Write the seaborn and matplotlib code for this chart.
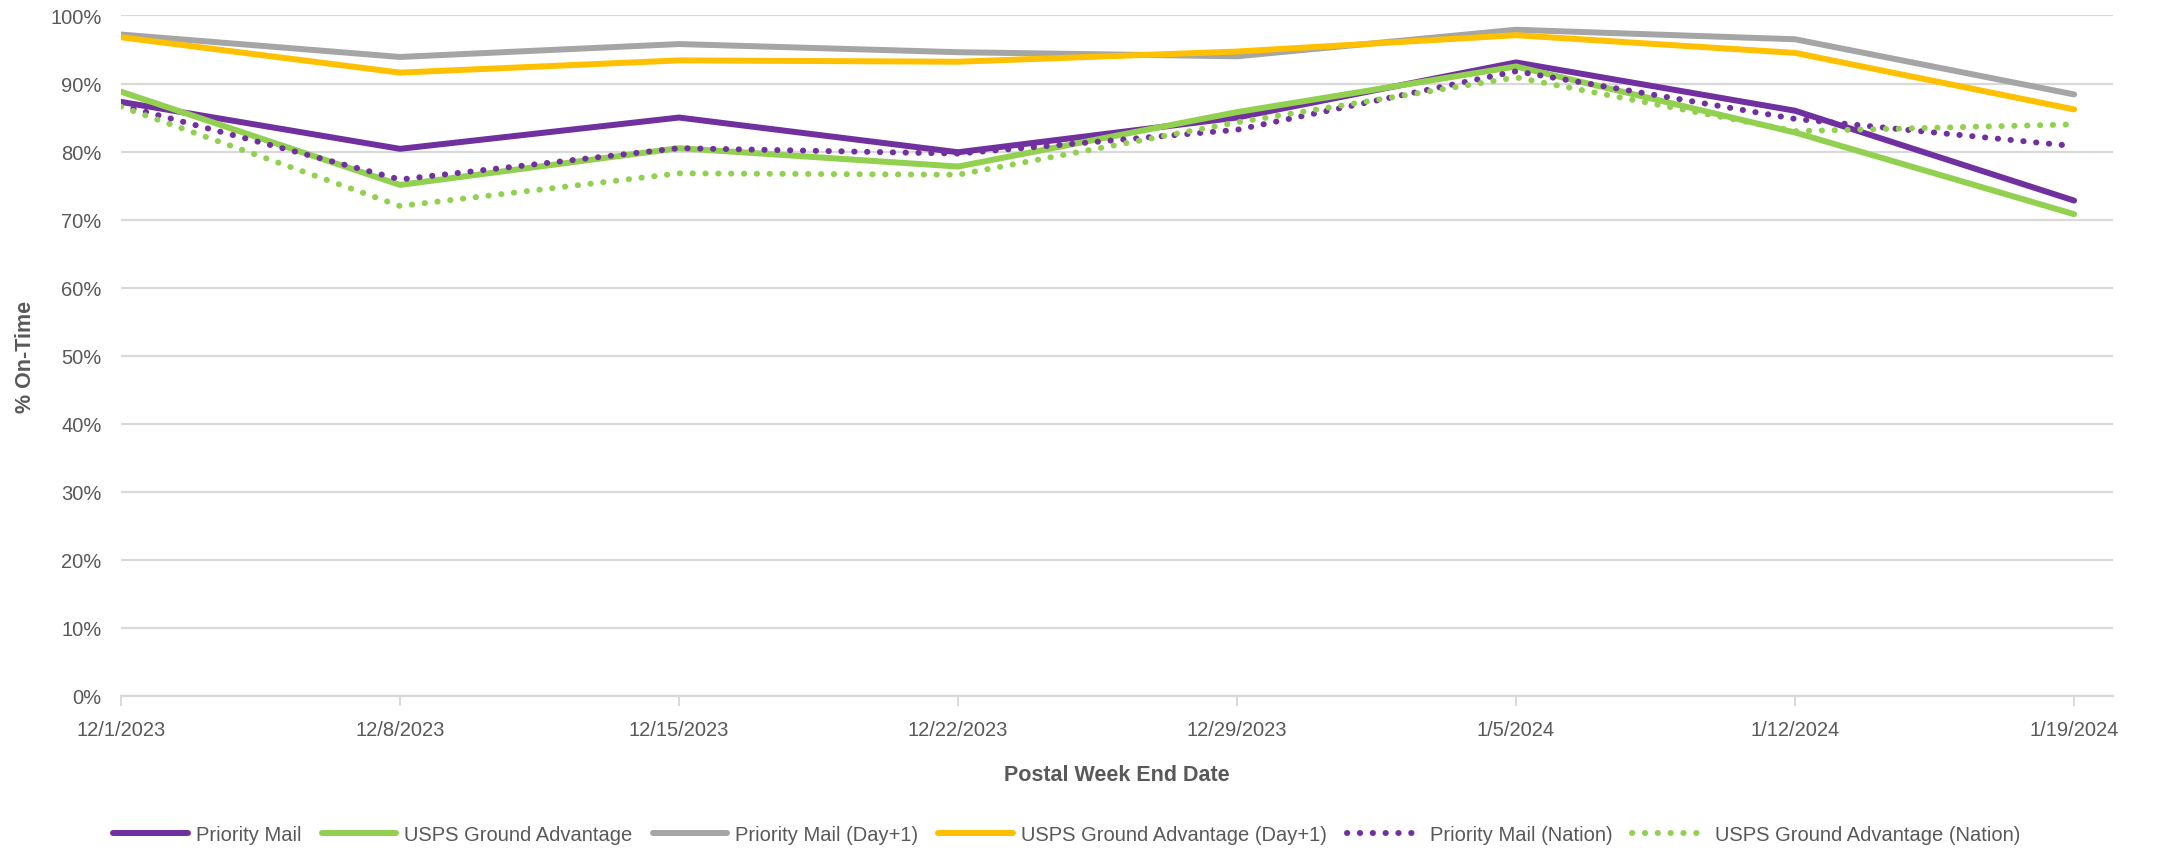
import matplotlib
matplotlib.use("Agg")
import matplotlib.pyplot as plt
import matplotlib.ticker as mticker
import seaborn as sns
import pandas as pd
import numpy as np

# week end dates and on-time shares (%)
weeks = ["12/1/2023", "12/8/2023", "12/15/2023", "12/22/2023",
         "12/29/2023", "1/5/2024", "1/12/2024", "1/19/2024"]
priority_mail = [87.3, 80.4, 85.0, 79.9, 85.0, 93.1, 86.0, 72.8]
ground_adv = [88.8, 75.1, 80.5, 77.8, 85.8, 92.5, 82.8, 70.8]
priority_day1 = [97.2, 93.9, 95.8, 94.6, 94.0, 97.9, 96.5, 88.4]
ground_day1 = [96.8, 91.6, 93.4, 93.2, 94.7, 97.1, 94.5, 86.2]
priority_nation = [86.8, 75.9, 80.5, 79.7, 83.2, 91.8, 84.8, 80.8]
ground_nation = [86.6, 72.0, 76.8, 76.6, 84.3, 90.9, 83.0, 84.0]

sns.set_style("white")
plt.rcParams['font.family'] = ['Liberation Sans', 'DejaVu Sans']

text_col = "#595959"
grid_col = "#D9D9D9"

series = [
    ("Priority Mail", priority_mail, "#7030A0", "solid"),
    ("USPS Ground Advantage", ground_adv, "#92D050", "solid"),
    ("Priority Mail (Day+1)", priority_day1, "#A5A5A5", "solid"),
    ("USPS Ground Advantage (Day+1)", ground_day1, "#FFC000", "solid"),
    ("Priority Mail (Nation)", priority_nation, "#7030A0", "dot"),
    ("USPS Ground Advantage (Nation)", ground_nation, "#92D050", "dot"),
]

fig = plt.figure(figsize=(21.64, 8.53), dpi=100)
ax = fig.add_axes([0.0559, 0.1829, 0.9765 - 0.0559, 0.9807 - 0.1829])

pos = np.arange(len(weeks))
for name, vals, col, style in series:
    df = pd.DataFrame({"pos": pos, "val": np.array(vals) / 100})
    if style == "solid":
        sns.lineplot(data=df, x="pos", y="val", ax=ax, color=col, lw=4.3,
                     label=name, solid_capstyle="round", solid_joinstyle="round")
    else:
        sns.lineplot(data=df, x="pos", y="val", ax=ax, color=col, lw=4.3,
                     label=name, linestyle=(0, (0.05, 2.1)),
                     dash_capstyle="round")

ax.set_xlim(0, 7.14)
ax.set_ylim(0, 1.0)
ax.yaxis.set_major_locator(mticker.MultipleLocator(0.1))
ax.yaxis.set_major_formatter(mticker.PercentFormatter(1.0, decimals=0))
ax.grid(axis="y", color=grid_col, lw=1.6)
ax.set_axisbelow(True)
ax.set_xticks(pos)
ax.set_xticklabels(weeks)
for s in ["top", "right", "left"]:
    ax.spines[s].set_visible(False)
ax.spines["bottom"].set_color(grid_col)
ax.spines["bottom"].set_linewidth(1.6)
ax.tick_params(axis="x", colors=text_col, labelsize=14.5, length=7, width=1.4,
               color=grid_col, pad=10, direction="out", bottom=True)
ax.tick_params(axis="y", colors=text_col, labelsize=14.5, length=0, pad=14)

ax.set_xlabel("Postal Week End Date", fontsize=15.5, fontweight="bold",
              color=text_col, labelpad=18)
ax.set_ylabel("% On-Time", fontsize=15.5, fontweight="bold",
              color=text_col, labelpad=10)

handles, labels = ax.get_legend_handles_labels()
ax.legend_.remove()
leg = fig.legend(handles, labels, loc="center", bbox_to_anchor=(0.493, 0.02),
                 ncol=6, frameon=False, fontsize=14.5, handlelength=3.7,
                 columnspacing=1.0, handletextpad=0.4)
for t in leg.get_texts():
    t.set_color(text_col)

fig.savefig("out.png", dpi=100)
